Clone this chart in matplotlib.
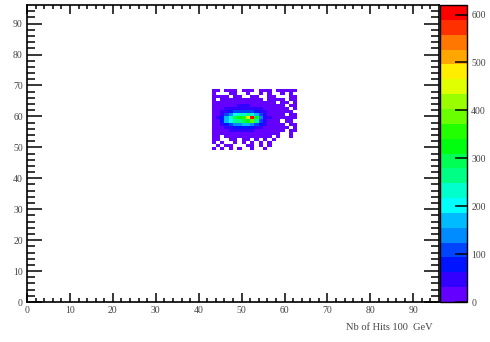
import numpy as np
import matplotlib
matplotlib.use("Agg")
import matplotlib.pyplot as plt
from matplotlib.colors import ListedColormap, BoundaryNorm, hsv_to_rgb

# bin edges of the filled region (1 unit bins)
x_first = 43
y_first = 49
# counts per bin, rows from y=68 (top) down to y=49, columns x=43..62
counts = [
    [4, 3, 0, 2, 5, 3, 0, 3, 4, 2, 0, 5, 3, 2, 0, 3, 4, 4, 2, 3],
    [2, 0, 0, 0, 3, 6, 0, 0, 2, 0, 0, 4, 0, 3, 0, 0, 2, 0, 3, 0],
    [6, 8, 5, 3, 0, 9, 7, 0, 0, 3, 8, 0, 0, 5, 4, 0, 0, 0, 2, 3],
    [8, 0, 9, 10, 8, 10, 12, 13, 14, 10, 8, 11, 0, 9, 7, 5, 6, 0, 3, 4],
    [8, 10, 12, 14, 16, 18, 18, 20, 20, 18, 16, 14, 12, 10, 8, 0, 6, 3, 0, 2],
    [10, 14, 18, 22, 26, 30, 32, 34, 32, 30, 26, 20, 16, 12, 9, 7, 5, 0, 4, 3],
    [12, 18, 26, 35, 45, 52, 58, 60, 58, 52, 44, 34, 24, 16, 11, 8, 5, 3, 0, 2],
    [14, 22, 38, 60, 85, 100, 110, 115, 115, 105, 85, 60, 38, 22, 14, 10, 6, 4, 3, 0],
    [15, 26, 55, 100, 150, 190, 220, 240, 250, 230, 170, 95, 50, 28, 16, 10, 7, 0, 4, 2],
    [18, 32, 90, 180, 240, 280, 310, 360, 440, 620, 320, 130, 60, 32, 18, 12, 8, 5, 3, 3],
    [16, 30, 80, 160, 210, 250, 270, 290, 330, 400, 260, 110, 55, 30, 16, 10, 0, 6, 3, 0],
    [13, 24, 50, 90, 120, 140, 150, 160, 165, 150, 115, 70, 40, 22, 13, 8, 5, 0, 2, 4],
    [10, 18, 30, 45, 60, 68, 72, 75, 72, 65, 52, 38, 25, 15, 10, 6, 4, 3, 0, 2],
    [7, 13, 20, 26, 32, 36, 38, 40, 38, 34, 28, 20, 14, 10, 6, 4, 3, 0, 2, 3],
    [5, 9, 12, 15, 18, 20, 21, 22, 20, 18, 15, 11, 8, 5, 3, 3, 0, 0, 2, 0],
    [4, 8, 0, 14, 16, 18, 20, 19, 17, 15, 12, 9, 6, 4, 0, 2, 0, 0, 3, 0],
    [3, 5, 0, 0, 9, 10, 0, 11, 10, 0, 7, 0, 4, 0, 3, 0, 0, 0, 0, 0],
    [2, 0, 4, 0, 0, 6, 0, 5, 0, 5, 0, 3, 0, 2, 0, 0, 0, 0, 0, 0],
    [0, 3, 0, 2, 3, 0, 0, 0, 4, 3, 0, 2, 0, 3, 0, 0, 0, 0, 0, 0],
    [2, 0, 3, 0, 2, 0, 3, 0, 0, 2, 0, 0, 3, 0, 0, 0, 0, 0, 0, 0],
]
z_max = 620
x_ticks = [0, 10, 20, 30, 40, 50, 60, 70, 80, 90]
y_ticks = [0, 10, 20, 30, 40, 50, 60, 70, 80, 90]
z_ticks = [0, 100, 200, 300, 400, 500, 600]
x_title = "Nb of Hits 100  GeV"

# ROOT "pretty" palette, 20 contours picked out of 50 colours
n_cont = 20
cols = []
for i in range(n_cont):
    k = int((i + 0.99) * 50 / n_cont)
    hue = 280 - (k + 1) * 280 / 50
    cols.append(hsv_to_rgb([max(hue, 0) / 360.0, 1, 1]))
cmap = ListedColormap(cols)
levels = np.linspace(0, z_max, n_cont + 1)
norm = BoundaryNorm(levels, cmap.N)

z = np.array(counts, dtype=float)[::-1]
z = np.ma.masked_where(z <= 0, z)
xe = np.arange(x_first, x_first + z.shape[1] + 1)
ye = np.arange(y_first, y_first + z.shape[0] + 1)

plt.rcParams['font.family'] = ['Liberation Serif', 'DejaVu Serif']

fig = plt.figure(figsize=(4.9, 3.42), dpi=100)
ax = fig.add_axes([27 / 490, 40 / 342, 412 / 490, 297 / 342])
mesh = ax.pcolormesh(xe, ye, z, cmap=cmap, norm=norm)
ax.set_xlim(0, 96)
ax.set_ylim(0, 96)

ax.set_xticks(x_ticks)
ax.set_yticks(y_ticks)
ax.set_xticks(np.arange(0, 96, 2), minor=True)
ax.set_yticks(np.arange(0, 96, 2), minor=True)
ax.tick_params(axis='x', which='major', direction='in', length=6.5, width=1.1,
               top=True, labelsize=7, pad=3, labelcolor='#444444')
ax.tick_params(axis='x', which='minor', direction='in', length=3, width=1.1, top=True)
ax.tick_params(axis='y', which='major', direction='in', length=11, width=1.1,
               right=True, labelsize=7, pad=3, labelcolor='#444444')
ax.tick_params(axis='y', which='minor', direction='in', length=6, width=1.1, right=True)
for s in ax.spines.values():
    s.set_linewidth(1.2)

ax.text(1.0 - 6 / 412, -0.085, x_title, transform=ax.transAxes, ha='right', va='center',
        fontsize=7.5, color='#444444')

cax = fig.add_axes([440 / 490, 40 / 342, 27 / 490, 297 / 342])
cb = fig.colorbar(mesh, cax=cax, ticks=z_ticks)
cb.ax.set_ylim(0, z_max)
cb.ax.tick_params(direction='in', length=9, width=1.1, labelsize=7, pad=3,
                  labelcolor='#444444')
cb.ax.minorticks_off()
cb.outline.set_linewidth(1.0)

fig.savefig("out.png", dpi=100)
